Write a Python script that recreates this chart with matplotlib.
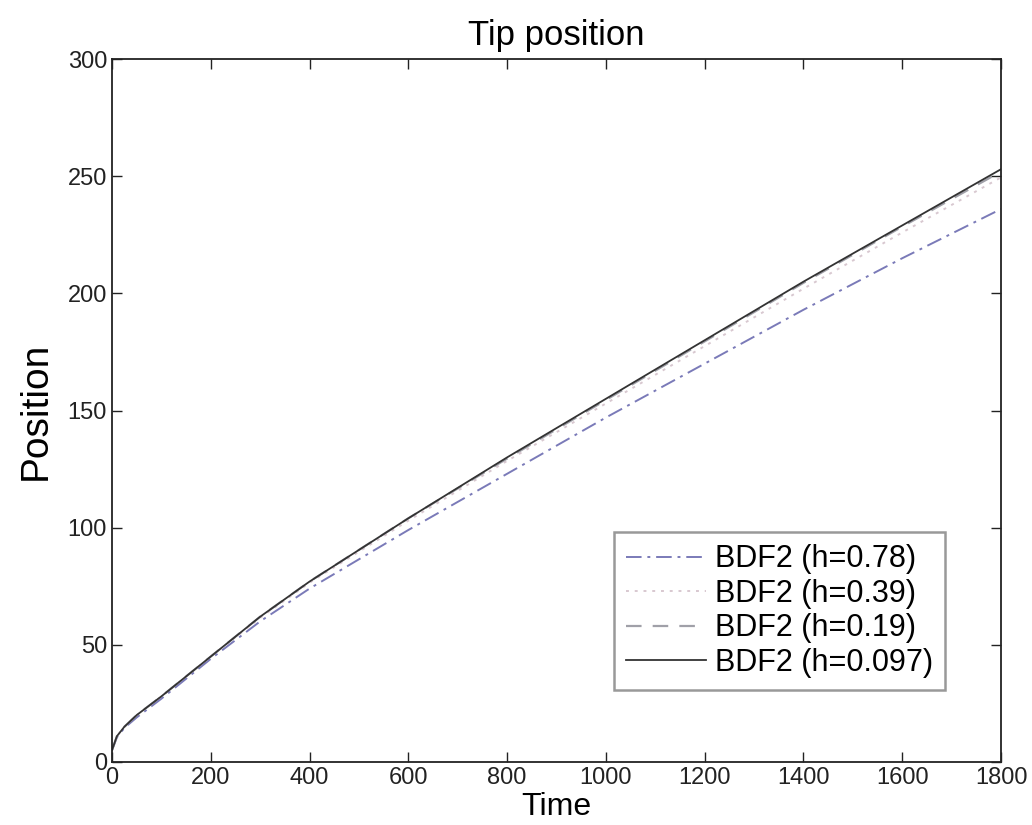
import matplotlib
matplotlib.use("Agg")
import matplotlib.pyplot as plt
import numpy as np

plt.rcParams['font.family'] = ['Liberation Sans', 'DejaVu Sans']

time = [0, 10, 25, 50, 100, 200, 300, 400, 600, 800, 1000, 1200, 1400, 1600, 1800]
pos_h078 = [5, 10.5, 14.5, 19, 27, 44, 60, 74, 99, 123, 147, 170, 193, 215, 236]
pos_h039 = [5, 11, 15, 20, 28, 45, 61.5, 76.5, 103, 128.5, 153, 177.5, 202, 226, 249.5]
pos_h019 = [5, 11, 15, 20, 28, 45, 62, 77, 104, 129.5, 154.5, 179.5, 204.5, 228.5, 252]
pos_h0097 = [5, 11, 15, 20, 28, 45, 62, 77, 104, 130, 155, 180, 205, 229, 253]

labels = ['BDF2 (h=0.78)', 'BDF2 (h=0.39)', 'BDF2 (h=0.19)', 'BDF2 (h=0.097)']

fig = plt.figure(figsize=(10.32, 8.25), dpi=100)
ax = fig.add_axes([0.1085, 0.0764, 0.8615, 0.852])

ax.plot(time, pos_h078, color='#7a7ab8', linestyle=(0, (8, 3, 1.5, 3)), linewidth=1.4, label=labels[0])
ax.plot(time, pos_h039, color='#d8c8d0', linestyle=(0, (1.5, 3)), linewidth=1.4, label=labels[1])
ax.plot(time, pos_h019, color='#a0a0a8', linestyle=(0, (7, 5)), linewidth=1.6, label=labels[2])
ax.plot(time, pos_h0097, color='#333333', linestyle='-', linewidth=1.3, label=labels[3])

ax.set_xlim(0, 1800)
ax.set_ylim(0, 300)
ax.set_xticks(np.arange(0, 1801, 200))
ax.set_yticks(np.arange(0, 301, 50))
ax.tick_params(direction='in', top=True, right=True, labelsize=17, length=7, width=1, colors='#222222')
for s in ax.spines.values():
    s.set_linewidth(1.3)
    s.set_color('#222222')

ax.set_title('Tip position', fontsize=25, pad=10)
ax.set_xlabel('Time', fontsize=23, labelpad=2)
ax.set_ylabel('Position', fontsize=28, labelpad=10)

leg = ax.legend(loc='lower right', bbox_to_anchor=(0.937, 0.102), borderaxespad=0, fontsize=22,
                frameon=True, fancybox=False, edgecolor='#999999', handlelength=2.6,
                handletextpad=0.3, borderpad=0.4, labelspacing=0.15)
leg.get_frame().set_linewidth(1.8)
leg.get_frame().set_alpha(1)

fig.savefig('out.png', dpi=100)
